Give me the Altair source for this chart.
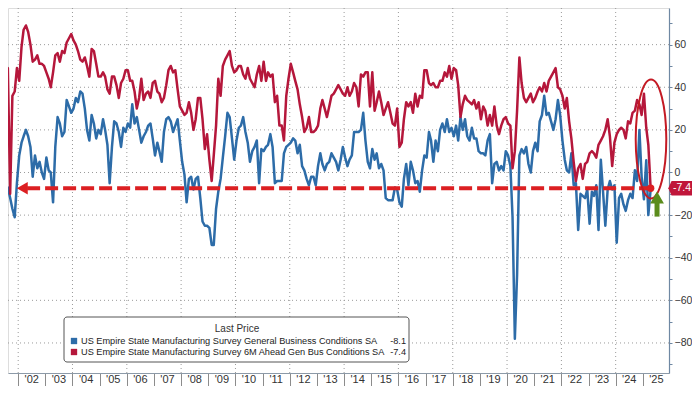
import altair as alt
import pandas as pd

# ---------------- data (monthly, starting Jun 2001) ----------------
general = [
    -10, -12, -7, -12, -17, -21, -5,                       # 2001 Jun-Dec
    8, 14, 17, 20, 17, 12, -2, 8, 2, 5, 0, -3,             # 2002
    7, 1, 0, -14, 12, 26, 23, 17, 19, 34, 31, 28,          # 2003
    30, 35, 33, 38, 37, 30, 20, 15, 27, 23, 16, 20,        # 2004
    18, 25, 20, 13, -5, 12, 24, 23, 19, 12, 21, 19,        # 2005
    23, 21, 32, 23, 26, 20, 14, 17, 19, 22, 23, 16,        # 2006
    8, 14, 10, 5, 19, 25, 26, 24, 19, 22, 25, 15,          # 2007
    5, -1, -14, -3, -2, -8, -3, -2, -12, -23, -25, -25,    # 2008
    -26, -34, -34, -17, -9, -3, 7, 17, 28, 26, 16, 6,      # 2009
    15, 21, 22, 26, 19, 14, 5, 10, 12, 15, -5, 11,         # 2010
    10, 12, 13, 18, 12, -5, -4, -4, -4, 9, 12, 13,         # 2011
    14, 16, 15, 9, 13, 3, 1, -3, -6, -2, -2, -6,           # 2012
    3, 9, 4, 1, 4, 5, 9, 7, 5, 1, 6, 12,                   # 2013
    7, 3, 6, 8, 19, 19, 19, 20, 28, 15, 5, 2,              # 2014
    11, 6, 9, 2, 4, 1, -12, -13, -13, -13, -7, -8,         # 2015
    -14, -16, -3, 4, -6, 5, 1, -5, -4, -9, 1, 8,           # 2016
    7, 19, 15, 5, 15, 10, 20, 23, 19, 25, 19, 21,          # 2017
    17, 22, 15, 26, 20, 25, 17, 15, 21, 16, 16, 10,        # 2018
    9, 9, 8, 15, 18, -5, 4, 5, 1, 3, 1, 10,                # 2019
    8, 3, -21, -78, -48, 8, 11, 9, 12, 4, 0, 10,           # 2020
    14, 10, 24, 27, 36, 27, 28, 24, 20, 25, 34, 27,        # 2021
    15, 6, 1, 0, 9, -6, -5, -27, -10, -11, -12, -8,        # 2022
    -24, -9, -11, -6, -27, 6, -9, -25, -8, -4, -8, -6,     # 2023
    -33, -12, -10, -15, -18, -13, -10, -12, 1, -4, 20, -2, # 2024
    -12.6, 5.7, -20.0, -8.1,                               # 2025 Jan-Apr
]
future = [
    47, 48, 49, -10, 36, 38, 49,                           # 2001 Jun-Dec
    43, 59, 67, 69, 66, 60, 52, 53, 55, 51, 51, 50,        # 2002
    47, 44, 40, 47, 55, 56, 52, 57, 56, 61, 63, 65,        # 2003
    62, 60, 57, 53, 52, 54, 50, 45, 58, 57, 51, 45,        # 2004
    45, 47, 45, 39, 37, 45, 45, 41, 35, 42, 44, 48,        # 2005
    48, 43, 43, 38, 30, 35, 44, 34, 37, 38, 35, 42,        # 2006
    43, 38, 37, 33, 35, 41, 48, 50, 47, 48, 39, 31,        # 2007
    29, 27, 28, 33, 28, 20, 25, 35, 35, 25, 11, 18,        # 2008
    6, -4, 8, 22, 44, 36, 50, 53, 55, 57, 50, 47,          # 2009
    48, 50, 50, 46, 44, 49, 44, 42, 40, 46, 50, 43,        # 2010
    52, 43, 47, 45, 46, 33, 36, 22, 22, 15, 36, 44,        # 2011
    51, 47, 43, 39, 32, 26, 19, 21, 26, 19, 19, 20,        # 2012
    22, 30, 34, 30, 26, 31, 36, 37, 39, 41, 39, 37,        # 2013
    36, 40, 36, 38, 42, 40, 31, 46, 45, 47, 47, 31,        # 2014
    47, 29, 33, 38, 33, 27, 30, 33, 28, 23, 22, 30,        # 2015
    12, 14, 25, 33, 31, 33, 28, 37, 31, 36, 35, 48,        # 2016
    48, 42, 41, 42, 40, 40, 43, 43, 47, 45, 50, 44,        # 2017
    49, 48, 41, 26, 32, 36, 34, 33, 32, 34, 30, 33,        # 2018
    25, 31, 29, 22, 27, 22, 31, 22, 18, 22, 25, 26,        # 2019
    23, 22, 2, 10, 29, 54, 42, 35, 33, 35, 37, 33,         # 2020
    35, 38, 40, 38, 42, 38, 43, 45, 47, 49, 40, 39,        # 2021
    36, 30, 35, 24, 16, 5, -4, 2, 4, -3, 4, 5,             # 2022
    9, 10, 9, 7, 13, 15, 17, 20, 25, 17, 3, 14,            # 2023
    18, 20, 21, 20, 16, 24, 23, 28, 29, 34, 32, 27,        # 2024
    37, 21, 13, -7.4,                                      # 2025 Jan-Apr
]

NAME_G = "US Empire State Manufacturing Survey General Business Conditions SA"
NAME_F = "US Empire State Manufacturing Survey 6M Ahead Gen Bus Conditions SA"
SERIES = [NAME_G, NAME_F]
LAST_VALUES = ["-8.1", "-7.4"]
LEGEND_TITLE = "Last Price"

YEARS = list(range(2002, 2026))
YEAR_LABELS = ["'02", "'03", "'04", "'05", "'06", "'07", "'08", "'09", "'10", "'11", "'12", "'13",
               "'14", "'15", "'16", "'17", "'18", "'19", "'20", "'21", "'22", "'23", "'24", "'25"]
GRID_YEARS = list(range(2002, 2025, 2))
GRID_Y = [-80, -60, -40, -20, 0, 20, 40, 60]
Y_TICKS = [-90, -80, -70, -60, -50, -40, -30, -20, -10, 0, 10, 20, 30, 40, 50, 60, 70]

# ---------------- styling ----------------
BLUE = "#2d6ca8"
RED = "#b5173b"
DASH_RED = "#dc1f22"
ELLIPSE_RED = "#c41a24"
TAG_RED = "#c0163a"
GREEN = "#5b8c1c"
FONT = "Liberation Sans"
PLOT_W, PLOT_H = 661, 365

n = len(general)
dates = pd.date_range("2001-06-01", periods=n, freq="MS") + pd.Timedelta(days=14)
df = pd.DataFrame({
    "date": list(dates) * 2,
    "value": general + future,
    "series": [NAME_G] * n + [NAME_F] * n,
})

xscale = alt.Scale(domain=[alt.DateTime(year=2001, month=8, date=17),
                           alt.DateTime(year=2025, month=12, date=18)])
xaxis = alt.Axis(values=[alt.DateTime(year=y, month=1, date=1) for y in YEARS],
                 labels=False, ticks=True, tickSize=13, tickColor="#8c8c8c",
                 domainColor="#8c9aa8", grid=False, title=None)
yscale = alt.Scale(domain=[-94.1, 77.2], nice=False, zero=False)
yaxis = alt.Axis(orient="right", values=Y_TICKS,
                 labelExpr="datum.value % 20 == 0 ? datum.label : ''",
                 tickSize=3, tickColor="#6f88a3", domainColor="#6f88a3", domainWidth=1.2,
                 labelColor="#333333", labelFontSize=10.5, labelPadding=2, grid=False, title=None)


def X(field):
    return alt.X(field, type="temporal", scale=xscale, axis=xaxis, title=None)


def Y(field):
    return alt.Y(field, type="quantitative", scale=yscale, axis=yaxis, title=None)


one = pd.DataFrame({"k": [0]})

# gridlines
vgrid = alt.Chart(pd.DataFrame({"date": [pd.Timestamp(year=y, month=1, day=1) for y in GRID_YEARS]})).mark_rule(
    color="#9a9a9a", strokeDash=[1, 3], strokeWidth=1).encode(x=X("date"))
hgrid = alt.Chart(pd.DataFrame({"value": GRID_Y})).mark_rule(
    color="#9a9a9a", strokeDash=[1, 3], strokeWidth=1).encode(y=Y("value"))

lines = alt.Chart(df).mark_line(strokeWidth=2.5, clip=True, strokeJoin="round").encode(
    x=X("date"), y=Y("value"),
    color=alt.Color("series:N", scale=alt.Scale(domain=SERIES, range=[BLUE, RED]), legend=None),
)

# dashed "last value" arrow
arrow_df = pd.DataFrame({"start": [pd.Timestamp("2002-05-01")], "end": [pd.Timestamp("2025-04-15")],
                         "value": [-7.4]})
dash = alt.Chart(arrow_df).mark_rule(color=DASH_RED, strokeWidth=4, strokeDash=[13, 5]).encode(
    x=X("start"), x2="end", y=Y("value"))
head_df = pd.DataFrame({"date": [pd.Timestamp("2002-02-25")], "value": [-7.4]})
head = alt.Chart(head_df).mark_point(shape="triangle-left", filled=True, size=160, color=DASH_RED,
                                     opacity=1).encode(x=X("date"), y=Y("value"))
dot_df = pd.DataFrame({"date": [pd.Timestamp("2025-04-15")], "value": [-7.4]})
dot = alt.Chart(dot_df).mark_circle(size=55, color=DASH_RED, opacity=1).encode(x=X("date"), y=Y("value"))

# ellipse highlight
k = 0.5523
a = 0.257
ELLIPSE = (f"M0,-1 C{k*a:.4f},-1 {a},{-k:.4f} {a},0 C{a},{k:.4f} {k*a:.4f},1 0,1 "
           f"C{-k*a:.4f},1 {-a},{k:.4f} {-a},0 C{-a},{-k:.4f} {-k*a:.4f},-1 0,-1 Z")
ell_df = pd.DataFrame({"date": [pd.Timestamp("2025-04-20")], "value": [15.7]})
ellipse = alt.Chart(ell_df).mark_point(shape=ELLIPSE, size=119 ** 2, filled=False, stroke=ELLIPSE_RED,
                                       strokeWidth=2, opacity=1).encode(x=X("date"), y=Y("value"))

# green arrow
g_df = pd.DataFrame({"date": [pd.Timestamp("2025-07-10")], "low": [-20.7], "high": [-13.0], "tip": [-11.7]})
g_shaft = alt.Chart(g_df).mark_rule(color=GREEN, strokeWidth=5).encode(x=X("date"), y=Y("low"), y2="high")
g_head = alt.Chart(g_df).mark_point(shape="triangle-up", filled=True, size=190, color=GREEN,
                                    opacity=1).encode(x=X("date"), y=Y("tip"))

# last-value tag on the axis
TAG = "M-1.15,0 L-0.86,-0.66 L1,-0.66 L1,0.66 L-0.86,0.66 Z"
tag_df = pd.DataFrame({"value": [-7.4], "label": [LAST_VALUES[1]]})
tag = alt.Chart(tag_df).mark_point(shape=TAG, size=22 ** 2, filled=True, color=TAG_RED, opacity=1).encode(
    x=alt.value(673), y=Y("value"))
tag_text = alt.Chart(tag_df).mark_text(color="white", fontSize=10.5, align="center", baseline="middle",
                                       font=FONT).encode(x=alt.value(674), y=Y("value"), text="label:N")

# year labels between separators
yl_df = pd.DataFrame({"date": [pd.Timestamp(year=y, month=7, day=2) for y in YEARS], "label": YEAR_LABELS})
year_labels = alt.Chart(yl_df).mark_text(baseline="bottom", align="center", fontSize=11, color="#333333",
                                         font=FONT).encode(x=X("date"), y=alt.value(377), text="label:N")

# legend box (Bloomberg style "Last Price" panel)
leg_box = alt.Chart(one).mark_rect(fill="white", stroke="#555555", strokeWidth=1, cornerRadius=3).encode(
    x=alt.value(56), x2=alt.value(401), y=alt.value(309), y2=alt.value(354))
leg_title = alt.Chart(pd.DataFrame({"t": [LEGEND_TITLE]})).mark_text(
    fontSize=10, color="#333333", align="center", baseline="middle", font=FONT).encode(
    x=alt.value(229), y=alt.value(321), text="t:N")
leg_layers = []
for i, (name, val, colr) in enumerate(zip(SERIES, LAST_VALUES, [BLUE, RED])):
    yy = 333 + 11 * i
    row = pd.DataFrame({"name": [name], "val": [val]})
    leg_layers.append(alt.Chart(row).mark_square(size=40, color=colr, opacity=1).encode(
        x=alt.value(66), y=alt.value(yy)))
    leg_layers.append(alt.Chart(row).mark_text(fontSize=9.2, color="#222222", align="left",
                                               baseline="middle", font=FONT).encode(
        x=alt.value(73), y=alt.value(yy), text="name:N"))
    leg_layers.append(alt.Chart(row).mark_text(fontSize=9.2, color="#222222", align="right",
                                               baseline="middle", font=FONT).encode(
        x=alt.value(398), y=alt.value(yy), text="val:N"))

chart = alt.layer(
    vgrid, hgrid, lines, dash, head, dot, ellipse, g_shaft, g_head, tag, tag_text, year_labels,
    leg_box, leg_title, *leg_layers
).properties(
    width=PLOT_W, height=PLOT_H,
    autosize=alt.AutoSizeParams(type="none"),
    padding={"left": 0, "top": 0, "right": 23, "bottom": 13},
    background="white",
).configure_view(stroke=None).configure(font=FONT)

chart.save("out.html", embed_options={"renderer": "svg", "actions": False})
